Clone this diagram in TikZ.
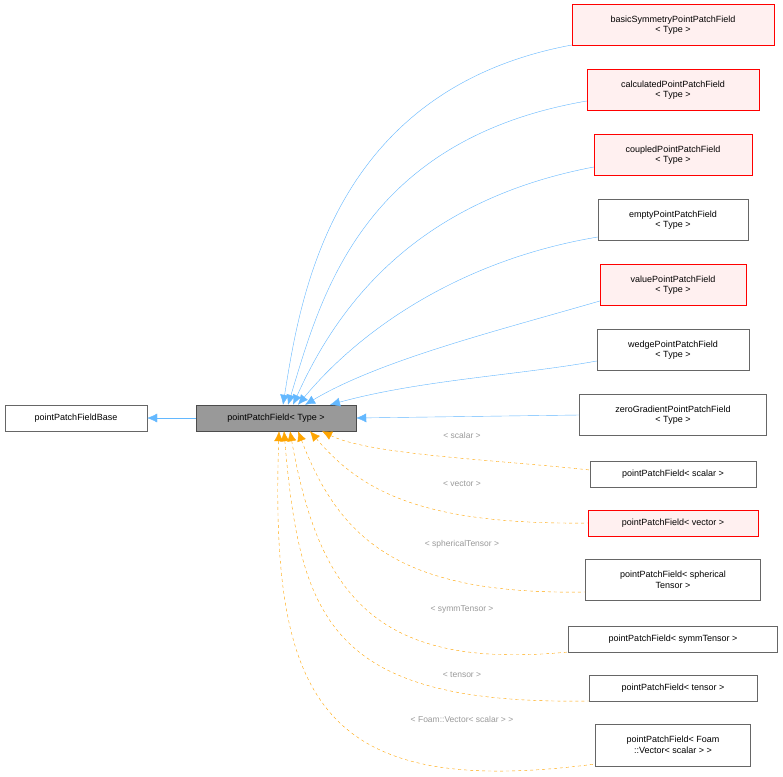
\documentclass[tikz,border=0pt]{standalone}
\usepackage{fontspec}
\setmainfont{Liberation Sans}
\usetikzlibrary{arrows.meta}
\definecolor{eblue}{HTML}{63B8FF}
\definecolor{eorange}{HTML}{FFA500}
\definecolor{lgray}{HTML}{9A9A9A}
\begin{document}
\begin{tikzpicture}[x=1pt,y=-1pt,
 box/.style={draw=black!60,fill=white,align=center,font=\fontsize{9}{10.5}\selectfont,inner sep=0pt,minimum height=26pt},
 red/.style={draw=red,fill=red!6},
 inh/.style={eblue,{Latex[length=10pt,width=9pt]}-},
 tmpl/.style={eorange,dashed,{Latex[length=10pt,width=9pt]}-},
 lab/.style={lgray,font=\fontsize{8.5}{10}\selectfont}]
\useasboundingbox[fill=white] (0,0) rectangle (783,776);
\node[box,minimum width=142pt] (base) at (76,418) {pointPatchFieldBase};
\node[box,minimum width=160pt,fill=black!40,draw=black!70] (pf) at (276,418) {pointPatchField< Type >};
\node[box,red,minimum width=202pt,minimum height=41pt] (n1) at (673,25) {basicSymmetryPointPatchField\\< Type >};
\node[box,red,minimum width=172pt,minimum height=41pt] (n2) at (673,90) {calculatedPointPatchField\\< Type >};
\node[box,red,minimum width=158pt,minimum height=41pt] (n3) at (673,155) {coupledPointPatchField\\< Type >};
\node[box,minimum width=150pt,minimum height=41pt] (n4) at (673,220) {emptyPointPatchField\\< Type >};
\node[box,red,minimum width=146pt,minimum height=41pt] (n5) at (673,285) {valuePointPatchField\\< Type >};
\node[box,minimum width=152pt,minimum height=41pt] (n6) at (673,350) {wedgePointPatchField\\< Type >};
\node[box,minimum width=187pt,minimum height=41pt] (n7) at (673,415) {zeroGradientPointPatchField\\< Type >};
\node[box,minimum width=166pt] (t1) at (673,474) {pointPatchField< scalar >};
\node[box,red,minimum width=170pt] (t2) at (673,523) {pointPatchField< vector >};
\node[box,minimum width=175pt,minimum height=41pt] (t3) at (673,580) {pointPatchField< spherical\\Tensor >};
\node[box,minimum width=209pt] (t4) at (673,639) {pointPatchField< symmTensor >};
\node[box,minimum width=168pt] (t5) at (673,688) {pointPatchField< tensor >};
\node[box,minimum width=155pt,minimum height=42pt] (t6) at (673,745) {pointPatchField< Foam\\::Vector< scalar > >};
\draw[inh] (base.east) -- (pf.west);
\draw[inh] (pf.east) -- (n7.west);
\draw[inh] (pf.north -| 283,0) .. controls (300,300) and (330,90) .. (n1.south west |- 0,45);
\draw[inh] (pf.north -| 288,0) .. controls (320,300) and (360,140) .. (n2.west |- 0,101);
\draw[inh] (pf.north -| 293,0) .. controls (340,300) and (420,200) .. (n3.west |- 0,167);
\draw[inh] (pf.north -| 298,0) .. controls (360,330) and (460,260) .. (n4.west |- 0,237);
\draw[inh] (pf.north -| 305,0) .. controls (380,360) and (500,330) .. (n5.west |- 0,301);
\draw[inh] (pf.north -| 330,0) .. controls (420,380) and (520,375) .. (n6.west |- 0,361);
\draw[tmpl] (pf.south -| 322,0) .. controls (370,455) and (500,460) .. (t1.west |- 0,470);
\draw[tmpl] (pf.south -| 310,0) .. controls (360,490) and (420,525) .. (t2.west);
\draw[tmpl] (pf.south -| 298,0) .. controls (340,540) and (400,595) .. (t3.west |- 0,592);
\draw[tmpl] (pf.south -| 290,0) .. controls (320,600) and (380,670) .. (t4.south west |- 0,652);
\draw[tmpl] (pf.south -| 284,0) .. controls (300,620) and (330,705) .. (t5.west |- 0,701);
\draw[tmpl] (pf.south -| 279,0) .. controls (270,700) and (320,800) .. (t6.west |- 0,764);
\node[lab] at (462,435) {< scalar >};
\node[lab] at (462,484) {< vector >};
\node[lab] at (462,544) {< sphericalTensor >};
\node[lab] at (462,609) {< symmTensor >};
\node[lab] at (462,675) {< tensor >};
\node[lab] at (462,719) {< Foam::Vector< scalar > >};
\end{tikzpicture}
\end{document}
